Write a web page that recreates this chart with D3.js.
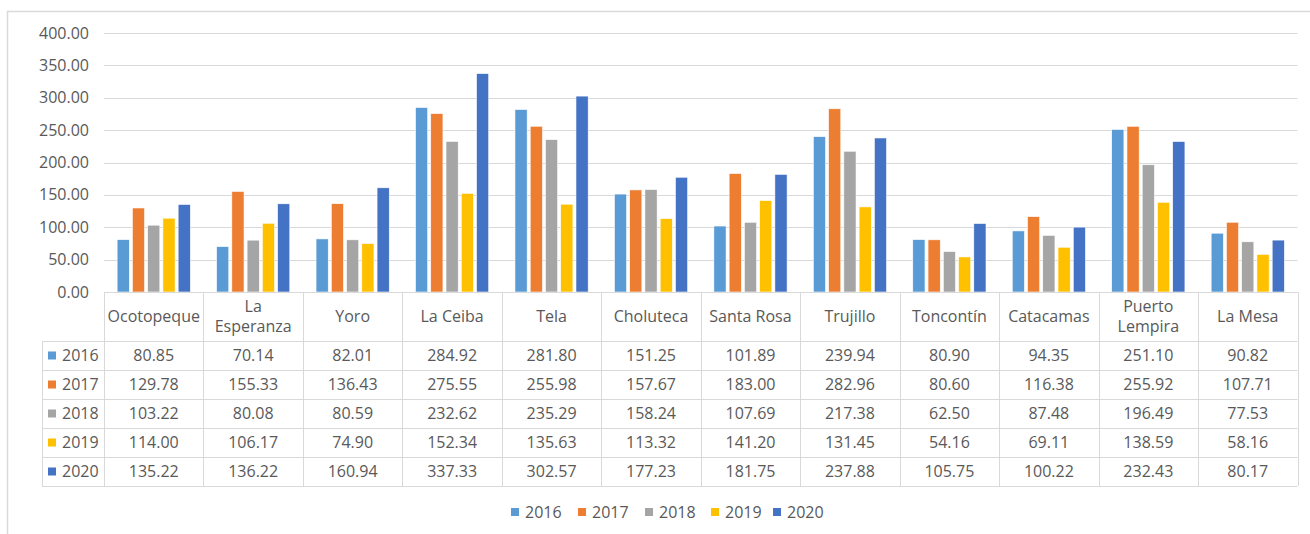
<!DOCTYPE html>
<html>
<head>
<meta charset="utf-8">
<script src="https://cdn.jsdelivr.net/npm/d3@7"></script>
<style>
  body { margin: 0; background: #fff; }
  svg text { font-family: "Open Sans", sans-serif; fill: #595959; }
</style>
</head>
<body>
<svg id="chart"></svg>
<script>
// data
var categories = ["Ocotopeque", "La Esperanza", "Yoro", "La Ceiba", "Tela", "Choluteca",
                  "Santa Rosa", "Trujillo", "Toncontín", "Catacamas", "Puerto Lempira", "La Mesa"];
var catLines = [["Ocotopeque"], ["La", "Esperanza"], ["Yoro"], ["La Ceiba"], ["Tela"], ["Choluteca"],
                ["Santa Rosa"], ["Trujillo"], ["Toncontín"], ["Catacamas"], ["Puerto", "Lempira"], ["La Mesa"]];
var years = ["2016", "2017", "2018", "2019", "2020"];
var v2016 = [80.85, 70.14, 82.01, 284.92, 281.80, 151.25, 101.89, 239.94, 80.90, 94.35, 251.10, 90.82];
var v2017 = [129.78, 155.33, 136.43, 275.55, 255.98, 157.67, 183.00, 282.96, 80.60, 116.38, 255.92, 107.71];
var v2018 = [103.22, 80.08, 80.59, 232.62, 235.29, 158.24, 107.69, 217.38, 62.50, 87.48, 196.49, 77.53];
var v2019 = [114.00, 106.17, 74.90, 152.34, 135.63, 113.32, 141.20, 131.45, 54.16, 69.11, 138.59, 58.16];
var v2020 = [135.22, 136.22, 160.94, 337.33, 302.57, 177.23, 181.75, 237.88, 105.75, 100.22, 232.43, 80.17];
var yTicks = [0, 50, 100, 150, 200, 250, 300, 350, 400];
var colors = ["#5B9BD5", "#ED7D31", "#A5A5A5", "#FFC000", "#4472C4"];

var series = [v2016, v2017, v2018, v2019, v2020];

var width = 1310, height = 534;
var plotLeft = 104, plotRight = 1297.5, plotTop = 33, plotBottom = 292;
var rowH = 29, headH = 49, tableLeft = 42;
var gridColor = "#D9D9D9";

var svg = d3.select("#chart").attr("width", width).attr("height", height);

// outer chart border
svg.append("rect")
  .attr("x", 7.5).attr("y", 11.5)
  .attr("width", 1330).attr("height", 560)
  .attr("fill", "none").attr("stroke", "#D9D9D9").attr("stroke-width", 1.5);

var x0 = d3.scaleBand().domain(categories).range([plotLeft, plotRight]).padding(0);
var x1 = d3.scaleBand().domain(years).range([0, x0.bandwidth()])
  .paddingInner(0.2).paddingOuter(0.86);
var y = d3.scaleLinear().domain([0, 400]).range([plotBottom, plotTop]);

// gridlines
svg.append("g").selectAll("line")
  .data(yTicks)
  .enter()
  .append("line")
  .attr("x1", plotLeft).attr("x2", plotRight)
  .attr("y1", function(d){ return Math.round(y(d)) + 0.5; })
  .attr("y2", function(d){ return Math.round(y(d)) + 0.5; })
  .attr("stroke", gridColor).attr("stroke-width", 1);

// y labels
svg.append("g").selectAll("text")
  .data(yTicks)
  .enter()
  .append("text")
  .attr("x", 89)
  .attr("y", function(d){ return y(d); })
  .attr("dy", "0.35em")
  .attr("text-anchor", "end")
  .style("font-size", "16px")
  .text(function(d){ return d3.format(".2f")(d); });

// bars
var groups = svg.append("g").selectAll("g")
  .data(categories)
  .enter()
  .append("g")
  .attr("transform", function(d){ return "translate(" + x0(d) + ",0)"; });

groups.selectAll("rect")
  .data(function(d, i){
    return years.map(function(yr, j){ return {year: yr, value: series[j][i], k: j}; });
  })
  .enter()
  .append("rect")
  .attr("x", function(d){ return x1(d.year); })
  .attr("width", x1.bandwidth())
  .attr("y", function(d){ return y(d.value); })
  .attr("height", function(d){ return plotBottom - y(d.value); })
  .attr("fill", function(d){ return colors[d.k]; })
  .attr("stroke", "#fff").attr("stroke-width", 0.6);

// data table
var tableTop = plotBottom;
var rowsTop = tableTop + headH;
var tableBottom = rowsTop + rowH * years.length;
var t = svg.append("g");

// horizontal lines
t.append("line")
  .attr("x1", plotLeft).attr("x2", plotRight)
  .attr("y1", tableTop + 0.5).attr("y2", tableTop + 0.5)
  .attr("stroke", gridColor);
t.selectAll(".hrow")
  .data(d3.range(years.length + 1))
  .enter()
  .append("line")
  .attr("x1", tableLeft).attr("x2", plotRight)
  .attr("y1", function(i){ return Math.round(rowsTop + i * rowH) + 0.5; })
  .attr("y2", function(i){ return Math.round(rowsTop + i * rowH) + 0.5; })
  .attr("stroke", gridColor);

// vertical lines
var vx = categories.map(function(c){ return x0(c); }).concat([plotRight]);
t.selectAll(".vcol")
  .data(vx)
  .enter()
  .append("line")
  .attr("x1", function(d){ return Math.round(d) + 0.5; })
  .attr("x2", function(d){ return Math.round(d) + 0.5; })
  .attr("y1", tableTop).attr("y2", tableBottom)
  .attr("stroke", gridColor);
t.append("line")
  .attr("x1", tableLeft + 0.5).attr("x2", tableLeft + 0.5)
  .attr("y1", rowsTop).attr("y2", tableBottom)
  .attr("stroke", gridColor);

// category header labels
var head = t.selectAll(".head")
  .data(catLines)
  .enter()
  .append("text")
  .attr("text-anchor", "middle")
  .style("font-size", "16px")
  .attr("x", function(d, i){ return x0(categories[i]) + x0.bandwidth() / 2; })
  .attr("y", function(d){ return tableTop + headH / 2 - (d.length - 1) * 10; });
head.selectAll("tspan")
  .data(function(d){ return d; })
  .enter()
  .append("tspan")
  .attr("x", function(){ return d3.select(this.parentNode).attr("x"); })
  .attr("dy", function(d, i){ return i === 0 ? "0.35em" : "20px"; })
  .text(function(d){ return d; });

// row legend keys
years.forEach(function(yr, j){
  var cy = rowsTop + j * rowH + rowH / 2;
  t.append("rect")
    .attr("x", 48).attr("y", cy - 4)
    .attr("width", 8).attr("height", 8)
    .attr("fill", colors[j]);
  t.append("text")
    .attr("x", 62).attr("y", cy).attr("dy", "0.35em")
    .style("font-size", "16px")
    .text(yr);
  t.append("g").selectAll("text")
    .data(series[j])
    .enter()
    .append("text")
    .attr("x", function(d, i){ return x0(categories[i]) + x0.bandwidth() / 2; })
    .attr("y", cy).attr("dy", "0.35em")
    .attr("text-anchor", "middle")
    .style("font-size", "16px")
    .text(function(d){ return d3.format(".2f")(d); });
});

// bottom legend
var legendX = [511, 578, 645, 711, 773];
var leg = svg.append("g").selectAll("g")
  .data(years)
  .enter()
  .append("g")
  .attr("transform", function(d, i){ return "translate(" + legendX[i] + ",512)"; });
leg.append("rect")
  .attr("x", 0).attr("y", -4)
  .attr("width", 8).attr("height", 8)
  .attr("fill", function(d, i){ return colors[i]; });
leg.append("text")
  .attr("x", 14).attr("dy", "0.35em")
  .style("font-size", "16px")
  .text(function(d){ return d; });
</script>
</body>
</html>
